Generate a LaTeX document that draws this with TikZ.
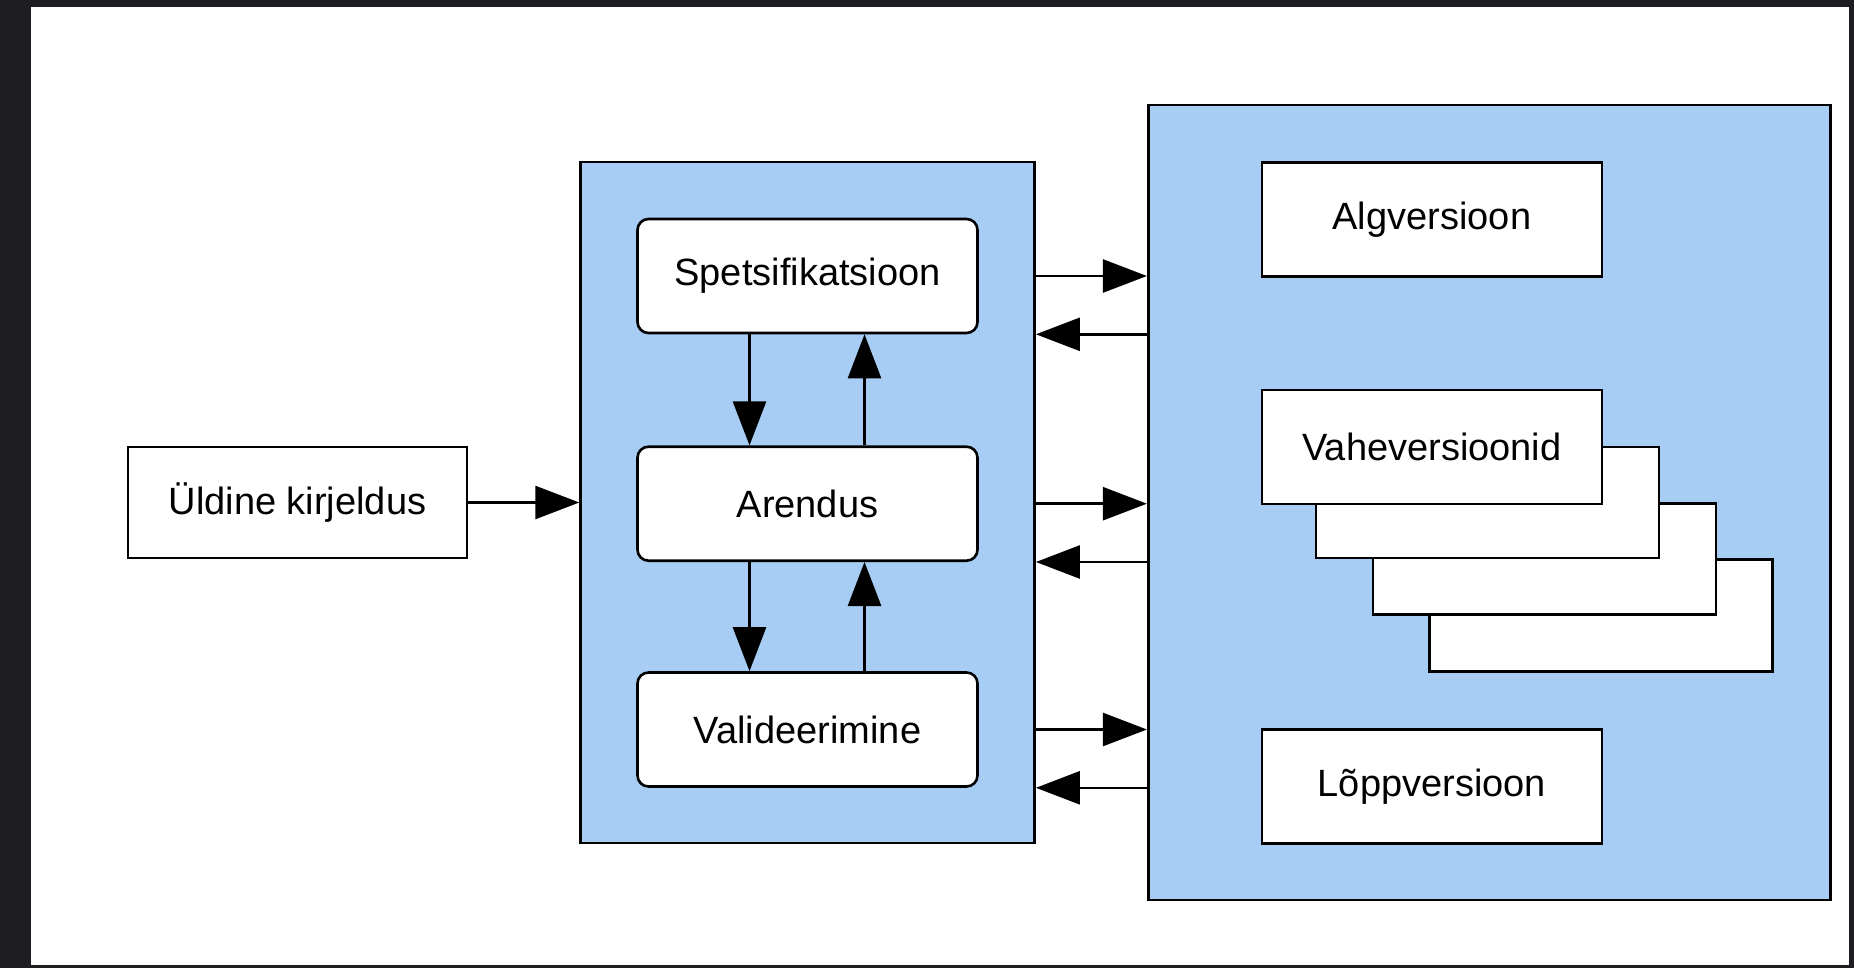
\documentclass[tikz,border=0pt]{standalone}
\usepackage{fontspec}
\setmainfont{Liberation Sans}
\usetikzlibrary{arrows.meta}
\definecolor{frame}{HTML}{1E1E22}
\definecolor{panel}{HTML}{A7CDF4}
\tikzset{
  lbl/.style={font=\fontsize{38}{44}\selectfont, text=black},
  plainbox/.style={draw=black, line width=2.6pt, fill=white, inner sep=0pt, lbl},
  roundbox/.style={plainbox, rounded corners=11pt},
  panelbox/.style={draw=black, line width=2.6pt, fill=panel, inner sep=0pt},
  conn/.style={line width=2.6pt, -{Triangle[length=44pt,width=33pt]}, shorten >=0pt}
}
\begin{document}
\begin{tikzpicture}[x=1pt,y=-1pt]
\useasboundingbox (0,0) rectangle (1854,968);
\fill[frame] (0,0) rectangle (1854,968);
\fill[white] (31,7) rectangle (1849,965);

% left box
\node[plainbox, minimum width=339pt, minimum height=111pt] (u) at (297.4,502.5) {Üldine kirjeldus};

% middle panel
\node[panelbox, minimum width=454pt, minimum height=681pt] (mid) at (807.6,502.5) {};
\node[roundbox, minimum width=340pt, minimum height=114pt] (spets) at (807.5,276) {Spetsifikatsioon};
\node[roundbox, minimum width=340pt, minimum height=114pt] (aren) at (807.5,503.7) {Arendus};
\node[roundbox, minimum width=340pt, minimum height=114pt] (vali) at (807.5,729.5) {Valideerimine};

% right panel
\node[panelbox, minimum width=682pt, minimum height=795pt] (right) at (1489.2,502.5) {};
\node[plainbox, minimum width=340pt, minimum height=114pt] (alg) at (1431.9,219.3) {Algversioon};
\node[plainbox, minimum width=343pt, minimum height=112pt] (s3) at (1601,615.4) {};
\node[plainbox, minimum width=343pt, minimum height=111pt] (s2) at (1544.3,559.2) {};
\node[plainbox, minimum width=343pt, minimum height=111pt] (s1) at (1487.5,502.5) {};
\node[plainbox, minimum width=340pt, minimum height=114pt] (vahe) at (1431.9,447) {Vaheversioonid};
\node[plainbox, minimum width=340pt, minimum height=114pt] (lopp) at (1431.9,786.3) {Lõppversioon};

% arrows
\draw[conn] (u.east) -- (mid.west |- u.east);

\draw[conn] ([xshift=-58pt]spets.south) -- ([xshift=-58pt]aren.north);
\draw[conn] ([xshift=57pt]aren.north) -- ([xshift=57pt]spets.south);
\draw[conn] ([xshift=-58pt]aren.south) -- ([xshift=-58pt]vali.north);
\draw[conn] ([xshift=57pt]vali.north) -- ([xshift=57pt]aren.south);

\draw[conn] (mid.east |- spets.center) -- (right.west |- spets.center);
\draw[conn] (right.west |- spets.south) -- (mid.east |- spets.south);
\draw[conn] (mid.east |- aren.center) -- (right.west |- aren.center);
\draw[conn] (right.west |- aren.south) -- (mid.east |- aren.south);
\draw[conn] (mid.east |- vali.center) -- (right.west |- vali.center);
\draw[conn] (right.west |- vali.south) -- (mid.east |- vali.south);
\end{tikzpicture}
\end{document}
